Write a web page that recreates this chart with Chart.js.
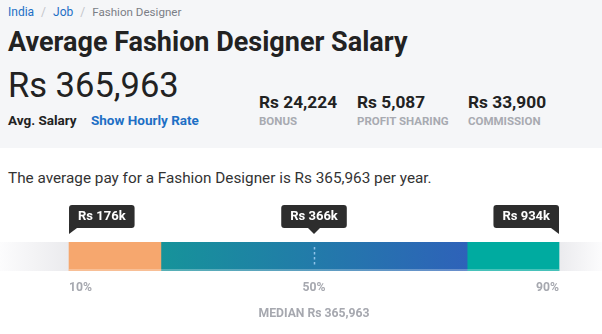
<!DOCTYPE html>
<html>
<head>
<meta charset="utf-8">
<script src="https://cdn.jsdelivr.net/npm/chart.js@4"></script>
<style>
  body { margin: 0; width: 602px; height: 334px; position: relative; overflow: hidden; background: #fff; font-family: Roboto, "Noto Sans", sans-serif; color: #222; }
  .head { position: absolute; left: 0; top: 0; width: 602px; height: 148px; background: #f5f6f8; }
  .abs { position: absolute; white-space: nowrap; }
  .crumb { left: 8px; top: 5px; font-size: 12px; line-height: 14px; color: #7b7e86; }
  .crumb a { color: #1d6fc5; text-decoration: none; }
  .crumb .sep { color: #c3c5ca; margin: 0 7px; }
  .crumb .last { font-size: 11.6px; }
  .title { left: 8px; top: 29px; font-size: 27px; line-height: 27px; font-weight: 700; }
  .big { left: 8px; top: 68px; font-size: 34.5px; line-height: 35px; font-weight: 400; }
  .avg { left: 8px; top: 114px; font-size: 13.5px; line-height: 13.5px; font-weight: 700; }
  .hourly { left: 91px; top: 114px; font-size: 13.5px; line-height: 13.5px; font-weight: 700; color: #1d6fc5; }
  .sv { top: 94px; font-size: 17.3px; line-height: 17.3px; font-weight: 700; }
  .sl { top: 116px; font-size: 11.5px; line-height: 11.5px; font-weight: 700; color: #a8aab1; }
  .sentence { left: 8px; top: 171px; font-size: 15.3px; line-height: 15.3px; color: #333; }
  #chart { position: absolute; left: 0; top: 190px; }
</style>
</head>
<body>
<div class="head"></div>
<div class="abs crumb"><a>India</a><span class="sep">/</span><a>Job</a><span class="sep">/</span><span class="last">Fashion Designer</span></div>
<div class="abs title">Average Fashion Designer Salary</div>
<div class="abs big">Rs 365,963</div>
<div class="abs avg">Avg. Salary</div>
<div class="abs hourly">Show Hourly Rate</div>
<div class="abs sv" style="left:259px">Rs 24,224</div>
<div class="abs sl" style="left:259px">BONUS</div>
<div class="abs sv" style="left:357px">Rs 5,087</div>
<div class="abs sl" style="left:357px">PROFIT SHARING</div>
<div class="abs sv" style="left:468px">Rs 33,900</div>
<div class="abs sl" style="left:468px">COMMISSION</div>
<div class="abs sentence">The average pay for a Fashion Designer is Rs 365,963 per year.</div>
<canvas id="chart" width="602" height="144"></canvas>
<script>
// Daten
const percentiles = [10, 50, 90];
const payLabels = ['Rs 176k', 'Rs 366k', 'Rs 934k'];
const tickLabels = ['10%', '50%', '90%'];
const bandEdges = [10, 25, 75, 90];
const medianText = 'MEDIAN Rs 365,963';

// Skala: 10% liegt bei x=69, 90% bei x=559
const xMin = -1.27;
const xMax = 97.02;

function middleGradient(context) {
  const chart = context.chart;
  const x = chart.scales.x;
  if (!chart.chartArea || !x) return '#1f85a6';
  const g = chart.ctx.createLinearGradient(x.getPixelForValue(bandEdges[1]), 0, x.getPixelForValue(bandEdges[2]), 0);
  g.addColorStop(0, '#16939a');
  g.addColorStop(1, '#2e62b9');
  return g;
}

function trackGradient(context) {
  const chart = context.chart;
  const area = chart.chartArea;
  if (!area) return '#ececef';
  const g = chart.ctx.createLinearGradient(area.left, 0, area.right, 0);
  g.addColorStop(0, '#fcfcfd');
  g.addColorStop(0.11, '#ebebee');
  g.addColorStop(0.93, '#ebebee');
  g.addColorStop(1, '#fcfcfd');
  return g;
}

const barDefaults = { barPercentage: 1, categoryPercentage: 1, grouped: false, borderWidth: 0 };

// Tooltips, Mittellinie und Beschriftungen
const overlay = {
  id: 'overlay',
  afterDatasetsDraw(chart) {
    const ctx = chart.ctx;
    const x = chart.scales.x;
    const area = chart.chartArea;
    ctx.save();

    // heller Streifen unten
    ctx.fillStyle = 'rgba(255,255,255,0.28)';
    const l = x.getPixelForValue(bandEdges[0]);
    const r = x.getPixelForValue(bandEdges[3]);
    ctx.fillRect(l, area.bottom - 2, r - l, 2);

    // Median gestrichelt
    const mx = Math.round(x.getPixelForValue(percentiles[1])) + 0.5;
    ctx.strokeStyle = '#8fc3ea';
    ctx.lineWidth = 1.5;
    ctx.setLineDash([2.5, 2.5]);
    ctx.beginPath();
    ctx.moveTo(mx, area.top + 5);
    ctx.lineTo(mx, area.bottom - 4);
    ctx.stroke();
    ctx.setLineDash([]);

    // Tooltip-Boxen
    ctx.font = 'bold 13px Roboto, sans-serif';
    ctx.textBaseline = 'middle';
    ctx.textAlign = 'center';
    const boxH = 23, boxBottom = area.top - 14, tip = area.top - 8;
    percentiles.forEach((p, i) => {
      const px = x.getPixelForValue(p);
      const w = ctx.measureText(payLabels[i]).width + 18;
      let bx;
      if (i === 0) bx = px;
      else if (i === percentiles.length - 1) bx = px - w;
      else bx = px - w / 2;
      ctx.fillStyle = '#2d2d2d';
      ctx.beginPath();
      ctx.roundRect(bx, boxBottom - boxH, w, boxH, 3);
      ctx.fill();
      ctx.beginPath();
      if (i === 0) {
        ctx.moveTo(px, boxBottom - 4);
        ctx.lineTo(px, tip);
        ctx.lineTo(px + 8, boxBottom);
      } else if (i === percentiles.length - 1) {
        ctx.moveTo(px, boxBottom - 4);
        ctx.lineTo(px, tip);
        ctx.lineTo(px - 8, boxBottom);
      } else {
        ctx.moveTo(px - 6, boxBottom);
        ctx.lineTo(px, tip);
        ctx.lineTo(px + 6, boxBottom);
      }
      ctx.closePath();
      ctx.fill();
      ctx.fillStyle = '#fff';
      ctx.fillText(payLabels[i], bx + w / 2, boxBottom - boxH / 2 + 0.5);
    });

    // Prozent-Beschriftungen
    ctx.font = 'bold 12.2px Roboto, sans-serif';
    ctx.fillStyle = '#a6a8af';
    percentiles.forEach((p, i) => {
      const px = x.getPixelForValue(p);
      ctx.textAlign = i === 0 ? 'left' : (i === percentiles.length - 1 ? 'right' : 'center');
      ctx.fillText(tickLabels[i], px, area.bottom + 17);
    });
    ctx.textAlign = 'center';
    ctx.fillText(medianText, x.getPixelForValue(percentiles[1]), area.bottom + 43);
    ctx.restore();
  }
};

new Chart(document.getElementById('chart'), {
  type: 'bar',
  data: {
    labels: ['Gehalt'],
    datasets: [
      { ...barDefaults, data: [[bandEdges[0], bandEdges[1]]], backgroundColor: '#f6a76e', order: 0 },
      { ...barDefaults, data: [[bandEdges[1], bandEdges[2]]], backgroundColor: middleGradient, order: 0 },
      { ...barDefaults, data: [[bandEdges[2], bandEdges[3]]], backgroundColor: '#00aba0', order: 0 },
      { ...barDefaults, data: [[xMin, xMax]], backgroundColor: trackGradient, order: 1 }
    ]
  },
  options: {
    indexAxis: 'y',
    responsive: false,
    animation: false,
    layout: { padding: { top: 52, bottom: 63, left: 0, right: 0 } },
    scales: {
      x: { type: 'linear', min: xMin, max: xMax, display: false },
      y: { display: false }
    },
    plugins: { legend: { display: false }, tooltip: { enabled: false } }
  },
  plugins: [overlay]
});
</script>
</body>
</html>
